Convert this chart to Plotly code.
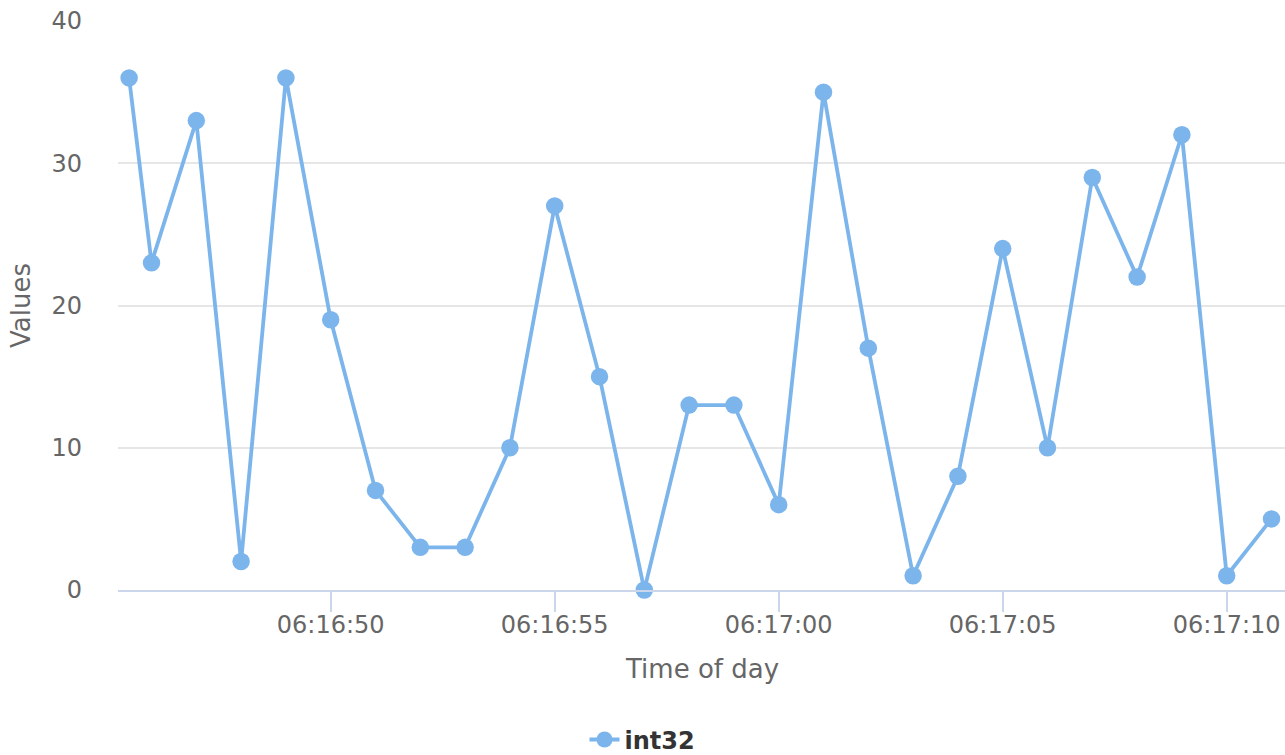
import plotly.graph_objects as go

times = [
    "2024-01-01 06:16:45.500", "2024-01-01 06:16:46", "2024-01-01 06:16:47",
    "2024-01-01 06:16:48", "2024-01-01 06:16:49", "2024-01-01 06:16:50",
    "2024-01-01 06:16:51", "2024-01-01 06:16:52", "2024-01-01 06:16:53",
    "2024-01-01 06:16:54", "2024-01-01 06:16:55", "2024-01-01 06:16:56",
    "2024-01-01 06:16:57", "2024-01-01 06:16:58", "2024-01-01 06:16:59",
    "2024-01-01 06:17:00", "2024-01-01 06:17:01", "2024-01-01 06:17:02",
    "2024-01-01 06:17:03", "2024-01-01 06:17:04", "2024-01-01 06:17:05",
    "2024-01-01 06:17:06", "2024-01-01 06:17:07", "2024-01-01 06:17:08",
    "2024-01-01 06:17:09", "2024-01-01 06:17:10", "2024-01-01 06:17:11",
]
values = [36, 23, 33, 2, 36, 19, 7, 3, 3, 10, 27, 15, 0, 13, 13, 6,
          35, 17, 1, 8, 24, 10, 29, 22, 32, 1, 5]
series_name = "int32"
x_title = "Time of day"
y_title = "Values"

fig = go.Figure()
fig.add_trace(go.Scatter(
    x=times, y=values, name=series_name, mode="lines+markers",
    line=dict(color="#7cb5ec", width=3.8),
    marker=dict(color="#7cb5ec", size=17.5),
    cliponaxis=False,
))

fig.update_layout(
    width=1285, height=755,
    margin=dict(l=118, r=0, t=21, b=165),
    plot_bgcolor="white", paper_bgcolor="white",
    font=dict(family="DejaVu Sans", color="#666666"),
    showlegend=True,
    legend=dict(orientation="h", xref="container", x=0.5, xanchor="center",
                yref="container", y=0.02, yanchor="middle",
                font=dict(size=24, color="#333333", family="DejaVu Sans", weight="bold")),
    xaxis=dict(
        type="date",
        range=["2024-01-01 06:16:45.252", "2024-01-01 06:17:11.301"],
        tick0="2024-01-01 06:16:50", dtick=5000, tickformat="%H:%M:%S",
        showgrid=False, zeroline=False,
        showline=True, linecolor="#ccd6eb", linewidth=2,
        ticks="outside", ticklen=20, tickwidth=2, tickcolor="#ccd6eb",
        ticklabelstandoff=-8,
        tickfont=dict(size=24, color="#666666"),
    ),
    yaxis=dict(
        range=[0, 40], dtick=10,
        showgrid=True, gridcolor="#e6e6e6", gridwidth=2,
        zeroline=False, showline=False, ticks="",
        ticklabelstandoff=35,
        tickfont=dict(size=24, color="#666666"),
        title=dict(text=y_title, font=dict(size=26, color="#666666"), standoff=13),
    ),
    annotations=[dict(
        text=x_title, xref="paper", yref="paper", x=0.5, y=-0.1388,
        xanchor="center", yanchor="middle", showarrow=False,
        font=dict(size=26, color="#666666"),
    )],
)

fig.write_html("out.html", config={"displayModeBar": False},
               post_script="document.body.style.margin='0';document.body.style.overflow='hidden';")
